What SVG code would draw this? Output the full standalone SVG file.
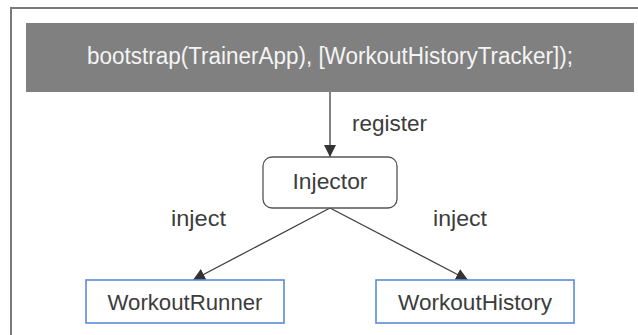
<svg xmlns="http://www.w3.org/2000/svg" width="638" height="335" viewBox="0 0 638 335">
  <defs>
    <style>
      .label { font-family: "Liberation Sans", Arial, sans-serif; font-size: 22.5px; fill: #3c3c3c; }
      .code { font-family: "Liberation Sans", Arial, sans-serif; font-size: 23.5px; fill: #f4f4f4; }
      .edge { stroke: #404040; stroke-width: 1.3; fill: none; }
      .svc { fill: #ffffff; stroke: #5b8bd9; stroke-width: 1.6; }
    </style>
    <marker id="arrow" viewBox="0 0 12 12" refX="12" refY="6" markerWidth="12" markerHeight="12" markerUnits="userSpaceOnUse" orient="auto">
      <path d="M0,0 L12,6 L0,12 Z" fill="#333333"/>
    </marker>
  </defs>

  <rect width="638" height="335" fill="#ffffff"/>
  <!-- outer frame (top and left edges) -->
  <path d="M11,335 V8 H638" fill="none" stroke="#7a7a7a" stroke-width="2"/>

  <g id="bootstrap">
    <rect x="26" y="23" width="608" height="69" fill="#808080"/>
    <text class="code" x="330" y="64" text-anchor="middle" textLength="486" lengthAdjust="spacingAndGlyphs">bootstrap(TrainerApp), [WorkoutHistoryTracker]);</text>
  </g>

  <g id="connectors">
    <line class="edge" x1="330" y1="92" x2="330" y2="157" marker-end="url(#arrow)"/>
    <text class="label" x="352" y="131" textLength="75" lengthAdjust="spacingAndGlyphs">register</text>
    <line class="edge" x1="330" y1="208" x2="193" y2="280" marker-end="url(#arrow)"/>
    <line class="edge" x1="330" y1="208" x2="468" y2="280" marker-end="url(#arrow)"/>
    <text class="label" x="171" y="226" textLength="55" lengthAdjust="spacingAndGlyphs">inject</text>
    <text class="label" x="433" y="226" textLength="54" lengthAdjust="spacingAndGlyphs">inject</text>
  </g>

  <g id="injector">
    <rect x="263" y="157" width="134" height="51" rx="9" fill="#ffffff" stroke="#555555" stroke-width="1.3"/>
    <text class="label" x="330" y="189" text-anchor="middle" textLength="75" lengthAdjust="spacingAndGlyphs">Injector</text>
  </g>

  <g id="workout-runner">
    <rect class="svc" x="86" y="280" width="198" height="43"/>
    <text class="label" x="185" y="310" text-anchor="middle" textLength="155" lengthAdjust="spacingAndGlyphs">WorkoutRunner</text>
  </g>

  <g id="workout-history">
    <rect class="svc" x="376" y="280" width="198" height="43"/>
    <text class="label" x="475" y="310" text-anchor="middle" textLength="154" lengthAdjust="spacingAndGlyphs">WorkoutHistory</text>
  </g>
</svg>
